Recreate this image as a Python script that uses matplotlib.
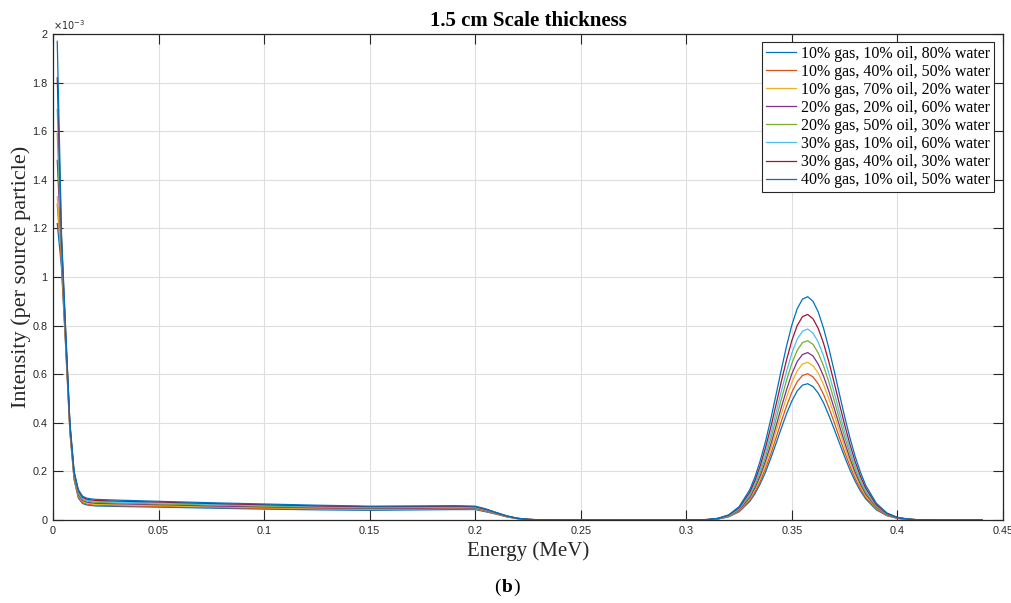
import matplotlib
matplotlib.use("Agg")
import matplotlib.pyplot as plt

# energy bins (MeV), shared by all spectra
energy = [0.002, 0.004, 0.006, 0.008, 0.010, 0.012, 0.014, 0.016, 0.018,
          0.020, 0.030, 0.050, 0.075, 0.100, 0.125, 0.150, 0.175, 0.190, 0.200,
          0.205, 0.210, 0.215, 0.220, 0.225, 0.230, 0.240, 0.250, 0.270,
          0.290, 0.300, 0.305, 0.310, 0.315, 0.320, 0.325, 0.330,
          0.3325, 0.335, 0.3375, 0.340, 0.3425, 0.345, 0.3475, 0.350, 0.3525,
          0.355, 0.3575, 0.360, 0.3625, 0.365, 0.3675, 0.370, 0.3725, 0.375,
          0.3775, 0.380, 0.3825, 0.385,
          0.390, 0.395, 0.400, 0.405, 0.410, 0.420, 0.440]

# intensity per source particle, in units of 1e-3
s1 = [1.22, 1.04, 0.71, 0.36, 0.165, 0.090, 0.068, 0.062, 0.060,
      0.058, 0.056, 0.053, 0.049, 0.045, 0.042, 0.040, 0.042, 0.043, 0.043,
      0.034, 0.024, 0.013, 0.0056, 0.0022, 0.0009, 0.0002, 0.0, 0.0,
      0.0, 0.0, 0.0, 0.001, 0.004, 0.013, 0.034, 0.076,
      0.108, 0.149, 0.197, 0.254, 0.315, 0.378, 0.438, 0.490, 0.531,
      0.555, 0.561, 0.549, 0.522, 0.482, 0.431, 0.375, 0.317, 0.260,
      0.206, 0.159, 0.119, 0.087,
      0.042, 0.018, 0.007, 0.002, 0.001, 0.0, 0.0]
s2 = [1.30, 1.06, 0.72, 0.37, 0.170, 0.095, 0.072, 0.066, 0.063,
      0.061, 0.059, 0.056, 0.052, 0.048, 0.045, 0.043, 0.045, 0.046, 0.045,
      0.036, 0.025, 0.0135, 0.0059, 0.0023, 0.0009, 0.0002, 0.0, 0.0,
      0.0, 0.0, 0.0, 0.001, 0.005, 0.014, 0.036, 0.081,
      0.116, 0.160, 0.212, 0.272, 0.338, 0.406, 0.470, 0.526, 0.569,
      0.595, 0.602, 0.589, 0.560, 0.517, 0.463, 0.403, 0.340, 0.279,
      0.222, 0.171, 0.128, 0.093,
      0.045, 0.019, 0.007, 0.003, 0.001, 0.0, 0.0]
s3 = [1.33, 1.08, 0.73, 0.375, 0.175, 0.100, 0.076, 0.070, 0.067,
      0.065, 0.063, 0.059, 0.055, 0.051, 0.047, 0.045, 0.047, 0.048, 0.047,
      0.038, 0.026, 0.014, 0.0061, 0.0024, 0.0009, 0.0002, 0.0, 0.0,
      0.0, 0.0, 0.0, 0.001, 0.005, 0.015, 0.039, 0.088,
      0.125, 0.172, 0.228, 0.293, 0.365, 0.437, 0.506, 0.567, 0.614,
      0.642, 0.649, 0.635, 0.604, 0.557, 0.499, 0.434, 0.367, 0.300,
      0.239, 0.184, 0.138, 0.101,
      0.049, 0.021, 0.008, 0.003, 0.001, 0.0, 0.0]
s4 = [1.48, 1.10, 0.74, 0.38, 0.180, 0.105, 0.080, 0.074, 0.071,
      0.069, 0.067, 0.063, 0.058, 0.054, 0.050, 0.048, 0.049, 0.050, 0.049,
      0.039, 0.027, 0.015, 0.0064, 0.0025, 0.0010, 0.0002, 0.0, 0.0,
      0.0, 0.0, 0.0, 0.002, 0.005, 0.016, 0.041, 0.093,
      0.133, 0.183, 0.243, 0.311, 0.387, 0.464, 0.537, 0.602, 0.652,
      0.681, 0.689, 0.675, 0.641, 0.592, 0.530, 0.461, 0.389, 0.319,
      0.254, 0.196, 0.147, 0.107,
      0.052, 0.022, 0.008, 0.003, 0.001, 0.0, 0.0]
s5 = [1.59, 1.12, 0.75, 0.385, 0.185, 0.110, 0.084, 0.078, 0.075,
      0.073, 0.070, 0.066, 0.062, 0.057, 0.053, 0.050, 0.052, 0.053, 0.051,
      0.041, 0.028, 0.015, 0.0066, 0.0026, 0.0010, 0.0003, 0.0001, 0.0,
      0.0, 0.0, 0.001, 0.002, 0.006, 0.017, 0.044, 0.100,
      0.142, 0.196, 0.260, 0.334, 0.415, 0.497, 0.576, 0.645, 0.698,
      0.730, 0.738, 0.723, 0.687, 0.634, 0.568, 0.494, 0.417, 0.342,
      0.272, 0.210, 0.157, 0.114,
      0.055, 0.024, 0.009, 0.003, 0.001, 0.0, 0.0]
s6 = [1.69, 1.14, 0.76, 0.39, 0.190, 0.115, 0.088, 0.082, 0.079,
      0.077, 0.074, 0.070, 0.065, 0.060, 0.056, 0.053, 0.054, 0.055, 0.053,
      0.042, 0.029, 0.016, 0.0069, 0.0027, 0.0011, 0.0003, 0.0001, 0.0,
      0.0, 0.0, 0.001, 0.002, 0.006, 0.018, 0.047, 0.106,
      0.152, 0.208, 0.277, 0.355, 0.442, 0.530, 0.613, 0.687, 0.744,
      0.777, 0.786, 0.769, 0.732, 0.675, 0.604, 0.526, 0.444, 0.364,
      0.289, 0.223, 0.167, 0.122,
      0.059, 0.025, 0.010, 0.003, 0.001, 0.0, 0.0]
s7 = [1.82, 1.16, 0.77, 0.395, 0.195, 0.120, 0.093, 0.086, 0.083,
      0.081, 0.078, 0.074, 0.068, 0.063, 0.058, 0.055, 0.056, 0.057, 0.055,
      0.044, 0.030, 0.0165, 0.0072, 0.0028, 0.0011, 0.0003, 0.0001, 0.0,
      0.0, 0.0, 0.001, 0.002, 0.007, 0.020, 0.051, 0.114,
      0.163, 0.224, 0.298, 0.382, 0.475, 0.570, 0.660, 0.739, 0.800,
      0.837, 0.846, 0.828, 0.788, 0.727, 0.651, 0.566, 0.478, 0.392,
      0.311, 0.240, 0.180, 0.131,
      0.063, 0.027, 0.010, 0.004, 0.001, 0.0, 0.0]
s8 = [1.97, 1.18, 0.78, 0.40, 0.200, 0.125, 0.098, 0.090, 0.087,
      0.085, 0.082, 0.077, 0.071, 0.066, 0.061, 0.057, 0.058, 0.059, 0.057,
      0.046, 0.031, 0.017, 0.0074, 0.0029, 0.0011, 0.0003, 0.0001, 0.0,
      0.0, 0.0, 0.001, 0.002, 0.007, 0.021, 0.055, 0.124,
      0.177, 0.244, 0.323, 0.415, 0.516, 0.619, 0.717, 0.803, 0.869,
      0.909, 0.919, 0.900, 0.856, 0.789, 0.707, 0.615, 0.519, 0.425,
      0.338, 0.261, 0.196, 0.142,
      0.069, 0.029, 0.011, 0.004, 0.001, 0.0, 0.0]

labels = ["10% gas, 10% oil, 80% water",
          "10% gas, 40% oil, 50% water",
          "10% gas, 70% oil, 20% water",
          "20% gas, 20% oil, 60% water",
          "20% gas, 50% oil, 30% water",
          "30% gas, 10% oil, 60% water",
          "30% gas, 40% oil, 30% water",
          "40% gas, 10% oil, 50% water"]
series = [s1, s2, s3, s4, s5, s6, s7, s8]
colors = ["#0072BD", "#D95319", "#EDB120", "#7E2F8E",
          "#77AC30", "#4DBEEE", "#A2142F", "#0072BD"]

x_ticks = [0, 0.05, 0.1, 0.15, 0.2, 0.25, 0.3, 0.35, 0.4, 0.45]
x_ticklabels = ["0", "0.05", "0.1", "0.15", "0.2", "0.25", "0.3", "0.35", "0.4", "0.45"]
y_ticks = [0, 0.2, 0.4, 0.6, 0.8, 1.0, 1.2, 1.4, 1.6, 1.8, 2.0]
y_ticklabels = ["0", "0.2", "0.4", "0.6", "0.8", "1", "1.2", "1.4", "1.6", "1.8", "2"]

serif = "Liberation Serif"
sans = "Liberation Sans"
axis_col = "#262626"

fig = plt.figure(figsize=(10.12, 6.03), dpi=100)
ax = fig.add_axes([0.0524, 0.1376, 0.9387, 0.806])

for y, lab, c in zip(series, labels, colors):
    ax.plot(energy, [v * 1e-3 for v in y], color=c, lw=0.9, label=lab)

ax.set_xlim(0, 0.45)
ax.set_ylim(0, 2e-3)
ax.set_xticks(x_ticks)
ax.set_xticklabels(x_ticklabels, fontfamily=sans, fontsize=7.8, color=axis_col)
ax.set_yticks([t * 1e-3 for t in y_ticks])
ax.set_yticklabels(y_ticklabels, fontfamily=sans, fontsize=7.8, color=axis_col)
ax.tick_params(direction="in", length=7, width=0.8, top=True, right=True,
               color=axis_col, pad=4)
ax.grid(True, color="#dedede", lw=0.8)
ax.set_axisbelow(True)
for sp in ax.spines.values():
    sp.set_color(axis_col)
    sp.set_linewidth(0.9)

ax.text(0.0, 1.004, r"$\times10^{-3}$", transform=ax.transAxes, ha="left",
        va="bottom", fontsize=7, color=axis_col, fontfamily=sans)

ax.set_title("1.5 cm Scale thickness", fontfamily=serif, fontweight="bold",
             fontsize=15, pad=6)
ax.set_xlabel("Energy (MeV)", fontfamily=serif, fontsize=15, color=axis_col,
              labelpad=4)
ax.set_ylabel("Intensity (per source particle)", fontfamily=serif, fontsize=16,
              color=axis_col, labelpad=1)

leg = ax.legend(loc="upper right", bbox_to_anchor=(0.9905, 0.9842),
                borderaxespad=0, prop={"family": serif, "size": 11.5},
                fancybox=False, framealpha=1, edgecolor=axis_col,
                handlelength=1.9, handletextpad=0.3, labelspacing=0.13,
                borderpad=0.25)
leg.get_frame().set_linewidth(0.8)

# panel tag "(b)" with a bold letter
t_open = fig.text(0.488, 0.018, "(", fontfamily=serif, fontsize=14,
                  ha="left", va="baseline")
t_b = ax.annotate("b", xy=(1, 0), xycoords=t_open, xytext=(0.8, 0),
                  textcoords="offset points", fontfamily=serif,
                  fontsize=14, fontweight="bold", ha="left", va="bottom")
ax.annotate(")", xy=(1, 0), xycoords=t_b, xytext=(0.8, 0),
            textcoords="offset points", fontfamily=serif, fontsize=14,
            ha="left", va="bottom")

fig.savefig("out.png", dpi=100, facecolor="white")
